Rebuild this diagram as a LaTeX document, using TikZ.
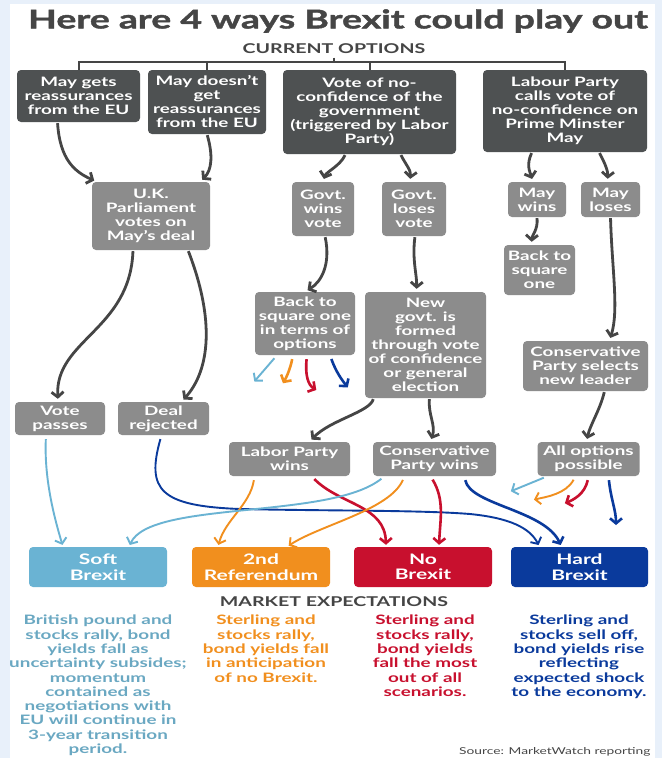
\documentclass[tikz,border=0pt]{standalone}
\usepackage{fontspec}
\setmainfont{Lato}[FakeStretch=1.45]
\newfontfamily\titlefont{Lato}[FakeStretch=1.45, FakeBold=1.6]
\usetikzlibrary{arrows.meta}

\definecolor{pagebg}{HTML}{E8F0FA}
\definecolor{darkbox}{HTML}{4E5152}
\definecolor{greybox}{HTML}{8C8C8C}
\definecolor{arrowgrey}{HTML}{454545}
\definecolor{titlegrey}{HTML}{454545}
\definecolor{softblue}{HTML}{6AB3D3}
\definecolor{softtext}{HTML}{6AA8C2}
\definecolor{reforange}{HTML}{F18F1E}
\definecolor{nored}{HTML}{C8102E}
\definecolor{hardblue}{HTML}{0A3A9C}

\tikzset{
  darkstep/.style={fill=darkbox, rounded corners=4pt, text=white, align=center, inner sep=0pt,
    font=\bfseries\fontsize{13}{14}\selectfont},
  greystep/.style={darkstep, fill=greybox},
  outcome/.style={rounded corners=4pt, text=white, align=center, inner sep=0pt,
    minimum height=40pt, minimum width=138pt, font=\bfseries\fontsize{14.5}{15.5}\selectfont},
  expect/.style={align=center, inner sep=0pt, anchor=north, font=\bfseries\fontsize{13}{14.3}\selectfont},
  tree/.style={draw=arrowgrey, line width=2pt},
  flow/.style={draw=arrowgrey, line width=2.8pt, -{Straight Barb[length=5pt,width=12pt]},
    shorten <=1pt, shorten >=3pt},
  pick/.style={line width=2.6pt, -{Straight Barb[length=5pt,width=12pt]}, shorten <=4pt, shorten >=2pt},
  thinpick/.style={pick, line width=1.9pt},
}

\begin{document}
\begin{tikzpicture}[x=1pt,y=-1pt]
    \useasboundingbox (0,0) rectangle (662,758);
    \fill[pagebg] (0,0) rectangle (662,758);
    \fill[white] (10,4) rectangle (655,758);

    % headings
    \node[text=titlegrey, font=\titlefont\bfseries\fontsize{25.8}{27}\selectfont] (title) at (338,21) {Here are 4 ways Brexit could play out};
    \node[text=titlegrey, font=\bfseries\fontsize{13.5}{14}\selectfont] (current) at (334,49) {CURRENT OPTIONS};

    % current options
    \node[darkstep, minimum width=123pt, minimum height=52pt] (may) at (78.5,96) {May gets\\reassurances\\from the EU};
    \node[darkstep, minimum width=118pt, minimum height=64pt] (maynot) at (207,102) {May doesn’t\\get\\reassurances\\from the EU};
    \node[darkstep, minimum width=173pt, minimum height=84pt] (vote) at (369.5,112) {Vote of no-\\confidence of the\\government\\(triggered by Labor\\Party)};
    \node[darkstep, minimum width=164pt, minimum height=82pt] (labour) at (565,111) {Labour Party\\calls vote of\\no-confidence on\\Prime Minster\\May};

    \coordinate (bar) at (334,62);
    \draw[tree] (may.north) -- (may.north |- bar) -- (labour.north |- bar) -- (labour.north);
    \draw[tree] (maynot.north) -- (maynot.north |- bar);
    \draw[tree] (vote.north) -- (vote.north |- bar);
    \draw[tree] (current.south) -- (bar);

    % second level
    \node[greystep, minimum width=118pt, minimum height=68pt] (parl) at (151,216) {U.K.\\Parliament\\votes on\\May’s deal};
    \node[greystep, minimum width=62pt, minimum height=54pt] (gwins) at (323,209) {Govt.\\wins\\vote};
    \node[greystep, minimum width=64pt, minimum height=54pt] (gloses) at (414,209) {Govt.\\loses\\vote};
    \node[greystep, minimum width=58pt, minimum height=35pt] (maywins) at (537,199.5) {May\\wins};
    \node[greystep, minimum width=59pt, minimum height=35pt] (mayloses) at (610.5,199.5) {May\\loses};

    \node[greystep, minimum width=71pt, minimum height=50pt] (square) at (539.5,270) {Back to\\square\\one};
    \node[greystep, minimum width=100pt, minimum height=63pt] (squareopt) at (305,323.5) {Back to\\square one\\in terms of\\options};
    \node[greystep, minimum width=121pt, minimum height=106pt] (newgovt) at (425.5,345) {New\\govt. is\\formed\\through vote\\of confidence\\or general\\election};
    \node[greystep, minimum width=125pt, minimum height=50pt] (consel) at (585.5,366) {Conservative\\Party selects\\new leader};

    \node[greystep, minimum width=90pt, minimum height=33pt] (passes) at (60,418.5) {Vote\\passes};
    \node[greystep, minimum width=91pt, minimum height=33pt] (rejected) at (163.5,418.5) {Deal\\rejected};
    \node[greystep, minimum width=121pt, minimum height=34pt] (labwins) at (289.5,459) {Labor Party\\wins};
    \node[greystep, minimum width=123pt, minimum height=34pt] (conwins) at (434.5,459) {Conservative\\Party wins};
    \node[greystep, minimum width=102pt, minimum height=34pt] (allopt) at (588.5,459) {All options\\possible};

    % outcomes
    \node[outcome, fill=softblue] (soft) at (98,567) {Soft\\Brexit};
    \node[outcome, fill=reforange] (refer) at (261,567) {2nd\\Referendum};
    \node[outcome, fill=nored] (nobrexit) at (423,567) {No\\Brexit};
    \node[outcome, fill=hardblue, minimum width=137pt] (hard) at (579.5,567) {Hard\\Brexit};

    % grey flow
    \draw[flow] ([xshift=-21pt]may.south) .. controls (60,160) and (75,172) .. ([xshift=-54pt]parl.north);
    \draw[flow] (maynot.south) .. controls (213,155) and (212,170) .. ([xshift=49pt]parl.north);
    \draw[flow] ([xshift=-24pt]vote.south) .. controls (340,166) and (326,172) .. (gwins.north);
    \draw[flow] ([xshift=31pt]vote.south) .. controls (406,165) and (411,170) .. ([xshift=-4pt]gloses.north);
    \draw[flow] ([xshift=-33pt]labour.south) .. controls (526,165) and (530,172) .. ([xshift=-4pt]maywins.north);
    \draw[flow] ([xshift=34pt]labour.south) .. controls (606,165) and (608,172) .. ([xshift=-3pt]mayloses.north);
    \draw[flow] ([xshift=-18pt]parl.south) .. controls (130,330) and (55,340) .. ([xshift=-2pt]passes.north);
    \draw[flow] ([xshift=37pt]parl.south) .. controls (215,320) and (210,370) .. ([xshift=18pt]rejected.north);
    \draw[flow] ([xshift=2pt]gwins.south) .. controls (331,265) and (321,282) .. (squareopt.north);
    \draw[flow] ([xshift=1pt]gloses.south) .. controls (412,260) and (417,275) .. ([xshift=-9pt]newgovt.north);
    \draw[flow] (maywins.south) .. controls (538,230) and (532,235) .. ([xshift=-8pt]square.north);
    \draw[flow] (mayloses.south) .. controls (612,270) and (619,310) .. ([xshift=24pt]consel.north);
    \draw[flow] ([xshift=-52pt]newgovt.south) .. controls (370,412) and (330,420) .. ([xshift=20pt]labwins.north);
    \draw[flow] ([xshift=4pt]newgovt.south) .. controls (428,415) and (436,425) .. ([xshift=-4pt]conwins.north);
    \draw[flow] ([xshift=19pt]consel.south) .. controls (600,410) and (590,425) .. ([xshift=-2pt]allopt.north);

    % open choices
    \coordinate (sq1) at (253,383);
    \coordinate (sq2) at (282,385);
    \coordinate (sq3) at (318,391);
    \coordinate (sq4) at (349,389);
    \draw[thinpick, softblue] ([xshift=-28pt]squareopt.south) -- (sq1);
    \draw[pick, reforange] ([xshift=-12pt]squareopt.south) .. controls (290,370) and (286,378) .. (sq2);
    \draw[pick, nored] ([xshift=2pt]squareopt.south) .. controls (305,375) and (308,385) .. (sq3);
    \draw[pick, hardblue] ([xshift=25pt]squareopt.south) .. controls (336,372) and (342,380) .. (sq4);

    \coordinate (ao1) at (509,492);
    \coordinate (ao2) at (532,500);
    \coordinate (ao3) at (563,504);
    \coordinate (ao4) at (616,527);
    \draw[thinpick, softblue] ([xshift=-41pt]allopt.south) -- (ao1);
    \draw[thinpick, reforange] ([xshift=-13pt]allopt.south) .. controls (566,494) and (546,497) .. (ao2);
    \draw[pick, nored] (allopt.south) .. controls (585,494) and (573,500) .. (ao3);
    \draw[pick, hardblue] ([xshift=20pt]allopt.south) .. controls (611,500) and (616,510) .. (ao4);

    % to outcomes
    \draw[thinpick, softblue] ([xshift=-14pt]passes.south) .. controls (44,480) and (55,520) .. ([xshift=-35pt]soft.north);
    \draw[thinpick, hardblue] ([xshift=-2pt]rejected.south) .. controls (146,490) and (160,506) .. (240,509)
        .. controls (330,511) and (420,510) .. (470,514) .. controls (510,518) and (530,528) .. ([xshift=-40pt]hard.north);
    \draw[thinpick, reforange] ([xshift=-35pt]labwins.south) .. controls (250,505) and (225,520) .. ([xshift=-43pt]refer.north);
    \draw[pick, nored] ([xshift=22pt]labwins.south) .. controls (340,505) and (385,505) .. ([xshift=-37pt]nobrexit.north);
    \draw[thinpick, softblue] ([xshift=-50pt]conwins.south) .. controls (330,520) and (150,500) .. ([xshift=31pt]soft.north);
    \draw[thinpick, reforange] ([xshift=-30pt]conwins.south) .. controls (390,510) and (320,525) .. ([xshift=26pt]refer.north);
    \draw[pick, nored] ([xshift=-4pt]conwins.south) .. controls (445,500) and (440,520) .. ([xshift=16pt]nobrexit.north);
    \draw[pick, hardblue] ([xshift=30pt]conwins.south) .. controls (470,505) and (545,510) .. ([xshift=-18pt]hard.north);

    % market expectations
    \node[text=titlegrey, font=\bfseries\fontsize{13.5}{14}\selectfont] (market) at (334,602) {MARKET EXPECTATIONS};
    \node[expect, text=softtext] (softtxt) at (98,615) {British pound and\\stocks rally, bond\\yields fall as\\uncertainty subsides;\\momentum\\contained as\\negotiations with\\EU will continue in\\3-year transition\\period.};
    \node[expect, text=reforange] (refertxt) at (266,615) {Sterling and\\stocks rally,\\bond yields fall\\in anticipation\\of no Brexit.};
    \node[expect, text=nored] (notxt) at (425,615) {Sterling and\\stocks rally,\\bond yields\\fall the most\\out of all\\scenarios.};
    \node[expect, text=hardblue] (hardtxt) at (579,615) {Sterling and\\stocks sell off,\\bond yields rise\\reflecting\\expected shock\\to the economy.};
    \node[anchor=east, text=titlegrey, font=\fontsize{9.5}{10}\selectfont] (source) at (654,752) {Source: MarketWatch reporting};
\end{tikzpicture}
\end{document}
